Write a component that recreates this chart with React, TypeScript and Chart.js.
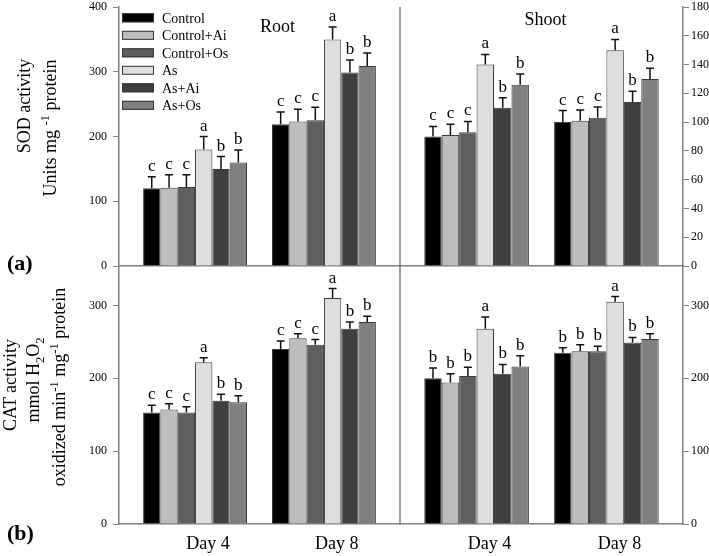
import React, { useEffect, useRef } from 'react';
import { Chart, registerables } from 'chart.js';

Chart.register(...registerables);

const FONT = '"Liberation Serif", "Times New Roman", serif';
Chart.defaults.font.family = FONT;

// ---------- data ----------
const categories = ['Day 4', 'Day 8'];
const dayPositions = [1, 2];
const treatments = ['Control', 'Control+Ai', 'Control+Os', 'As', 'As+Ai', 'As+Os'];
const treatmentColors = ['#000000', '#bdbdbd', '#5f5f5f', '#dedede', '#3f3f3f', '#808080'];

// SOD, root (left axis 0-400)
const sodRootDay4 = [120, 121, 122, 180, 150, 160];
const sodRootDay4Err = [18, 20, 19, 20, 19, 19];
const sodRootDay4Sig = ['c', 'c', 'c', 'a', 'b', 'b'];
const sodRootDay8 = [219, 223, 225, 350, 299, 309];
const sodRootDay8Err = [19, 19, 20, 19, 19, 20];
const sodRootDay8Sig = ['c', 'c', 'c', 'a', 'b', 'b'];

// SOD, shoot (right axis 0-180)
const sodShootDay4 = [90, 91, 93, 140, 110, 126];
const sodShootDay4Err = [7, 7.5, 7.5, 7, 7, 7.5];
const sodShootDay4Sig = ['c', 'c', 'c', 'a', 'b', 'b'];
const sodShootDay8 = [100, 101, 103, 150, 114, 130];
const sodShootDay8Err = [8, 7.5, 7.5, 7.5, 7.5, 7.5];
const sodShootDay8Sig = ['c', 'c', 'c', 'a', 'b', 'b'];

// CAT, root
const catRootDay4 = [153, 157, 153, 222, 169, 167];
const catRootDay4Err = [10, 8, 8, 6, 9, 9];
const catRootDay4Sig = ['c', 'c', 'c', 'a', 'b', 'b'];
const catRootDay8 = [240, 255, 246, 310, 268, 277];
const catRootDay8Err = [11, 6, 7, 13, 9, 8];
const catRootDay8Sig = ['c', 'c', 'c', 'a', 'b', 'b'];

// CAT, shoot
const catShootDay4 = [200, 194, 203, 268, 206, 216];
const catShootDay4Err = [14, 12, 12, 16, 13, 15];
const catShootDay4Sig = ['b', 'b', 'b', 'a', 'b', 'b'];
const catShootDay8 = [235, 237, 237, 305, 249, 254];
const catShootDay8Err = [7, 9, 7, 7, 7, 7];
const catShootDay8Sig = ['b', 'b', 'b', 'a', 'b', 'b'];

// tick labels
const sodRootTicks = [0, 100, 200, 300, 400];
const sodShootTicks = [0, 20, 40, 60, 80, 100, 120, 140, 160, 180];
const catTicks = [0, 100, 200, 300];

// ---------- layout ----------
const W = 709;
const H = 556;
const AXIS = '#808080';

// ---------- plugins ----------
const barAnnotations = {
  id: 'barAnnotations',
  afterDatasetsDraw(chart: any, _args: any, o: any) {
    const ctx = chart.ctx;
    const ys = chart.scales.y;
    ctx.save();
    chart.data.datasets.forEach((ds: any, i: number) => {
      const meta = chart.getDatasetMeta(i);
      meta.data.forEach((bar: any, j: number) => {
        const v = ds.data[j].y;
        const top = ys.getPixelForValue(v + ds.errors[j]);
        ctx.strokeStyle = o.color;
        ctx.lineWidth = o.lineWidth;
        ctx.beginPath();
        ctx.moveTo(bar.x, bar.y);
        ctx.lineTo(bar.x, top);
        ctx.moveTo(bar.x - o.cap / 2, top);
        ctx.lineTo(bar.x + o.cap / 2, top);
        ctx.stroke();
        ctx.fillStyle = '#000';
        ctx.font = o.font;
        ctx.textAlign = 'center';
        ctx.textBaseline = 'alphabetic';
        ctx.fillText(ds.letters[j], bar.x, top - o.gap);
      });
    });
    ctx.restore();
  },
};

const panelDecor = {
  id: 'panelDecor',
  afterDraw(chart: any, _args: any, o: any) {
    const ctx = chart.ctx;
    const ca = chart.chartArea;
    ctx.save();
    if (o.divider) {
      ctx.strokeStyle = AXIS;
      ctx.lineWidth = 1.5;
      ctx.beginPath();
      ctx.moveTo(ca.left, ca.top);
      ctx.lineTo(ca.left, ca.bottom);
      ctx.stroke();
    }
    if (o.title) {
      ctx.fillStyle = '#000';
      ctx.font = '18px ' + FONT;
      ctx.textAlign = 'center';
      ctx.textBaseline = 'alphabetic';
      ctx.fillText(o.title, o.titleX, o.titleY);
    }
    if (o.legend) {
      chart.data.datasets.forEach((ds: any, i: number) => {
        const top = o.legendY + i * o.legendRow;
        ctx.fillStyle = ds.backgroundColor;
        ctx.fillRect(o.legendX, top, 32, 9);
        ctx.strokeStyle = '#333';
        ctx.lineWidth = 1;
        ctx.strokeRect(o.legendX + 0.5, top + 0.5, 31, 8);
        ctx.fillStyle = '#000';
        ctx.font = '14px ' + FONT;
        ctx.textAlign = 'left';
        ctx.textBaseline = 'alphabetic';
        ctx.fillText(ds.label, o.legendX + 40, top + 9.4);
      });
    }
    ctx.restore();
  },
};

type PanelSpec = {
  day4: number[]; day8: number[];
  err4: number[]; err8: number[];
  sig4: string[]; sig8: string[];
  ticks: number[]; max: number;
  side: 'left' | 'right';
  area: { l: number; t: number; r: number; b: number };
  showDays: boolean;
  decor: any;
};

function makeConfig(p: PanelSpec): any {
  const vals = [p.day4, p.day8];
  const errs = [p.err4, p.err8];
  const sigs = [p.sig4, p.sig8];
  const datasets = treatments.map((name, i) => ({
    label: name,
    data: dayPositions.map((x, j) => ({ x, y: vals[j][i] })),
    errors: dayPositions.map((_, j) => errs[j][i]),
    letters: dayPositions.map((_, j) => sigs[j][i]),
    backgroundColor: treatmentColors[i],
    borderColor: '#3a3a3a',
    borderWidth: 1,
    categoryPercentage: 0.806,
    barPercentage: 1,
  }));
  const a = p.area;
  const isLeft = p.side === 'left';
  return {
    type: 'bar',
    data: { datasets },
    options: {
      responsive: false,
      animation: false,
      devicePixelRatio: 1,
      events: [],
      layout: {
        padding: {
          left: isLeft ? 0 : a.l,
          right: isLeft ? W - a.r : 0,
          top: a.t,
          bottom: p.showDays ? 0 : H - a.b,
        },
      },
      plugins: {
        legend: { display: false },
        tooltip: { enabled: false },
        barAnnotations: { color: '#111', lineWidth: 1.5, cap: 8, gap: 6, font: '17px ' + FONT },
        panelDecor: p.decor,
      },
      scales: {
        x: {
          type: 'linear',
          min: 0.41,
          max: 2.59,
          offset: false,
          afterBuildTicks: (s: any) => {
            s.ticks = dayPositions.map((v) => ({ value: v + 0.1 }));
          },
          afterFit: (s: any) => {
            s.height = p.showDays ? H - a.b : 0;
            s.paddingLeft = 0;
            s.paddingRight = 0;
          },
          ticks: {
            display: p.showDays,
            callback: (_v: any, idx: number) => categories[idx],
            font: { family: FONT, size: 18 },
            color: '#000',
            padding: 9,
            maxRotation: 0,
            autoSkip: false,
          },
          grid: { display: false, drawTicks: false },
          border: { display: true, color: AXIS, width: 1.5 },
        },
        y: {
          position: p.side,
          min: 0,
          max: p.max,
          afterBuildTicks: (s: any) => {
            s.ticks = p.ticks.map((v) => ({ value: v }));
          },
          afterFit: (s: any) => {
            s.width = isLeft ? a.l : W - a.r;
            s.paddingTop = 0;
            s.paddingBottom = 0;
          },
          ticks: { font: { family: FONT, size: 12 }, color: '#000', padding: isLeft ? 6 : 2 },
          grid: { display: true, drawOnChartArea: false, drawTicks: true, tickLength: 6, color: AXIS, lineWidth: 1 },
          border: { display: true, color: AXIS, width: 1.5 },
        },
      },
    },
    plugins: [barAnnotations, panelDecor],
  };
}

const LEFT = 119;
const MID = 400;
const RIGHT = 683;
const TOP = 7;
const MIDY = 266;
const BOTTOM = 524;

const panels: PanelSpec[] = [
  {
    day4: sodRootDay4, day8: sodRootDay8, err4: sodRootDay4Err, err8: sodRootDay8Err,
    sig4: sodRootDay4Sig, sig8: sodRootDay8Sig, ticks: sodRootTicks, max: 400,
    side: 'left', area: { l: LEFT, t: TOP, r: MID, b: MIDY }, showDays: false,
    decor: { title: 'Root', titleX: 277.5, titleY: 31.5, legend: true, legendX: 122, legendY: 13.3, legendRow: 17.5 },
  },
  {
    day4: sodShootDay4, day8: sodShootDay8, err4: sodShootDay4Err, err8: sodShootDay8Err,
    sig4: sodShootDay4Sig, sig8: sodShootDay8Sig, ticks: sodShootTicks, max: 180,
    side: 'right', area: { l: MID, t: TOP, r: RIGHT, b: MIDY }, showDays: false,
    decor: { title: 'Shoot', titleX: 545.5, titleY: 25, divider: true },
  },
  {
    day4: catRootDay4, day8: catRootDay8, err4: catRootDay4Err, err8: catRootDay8Err,
    sig4: catRootDay4Sig, sig8: catRootDay8Sig, ticks: catTicks, max: 354,
    side: 'left', area: { l: LEFT, t: MIDY, r: MID, b: BOTTOM }, showDays: true,
    decor: {},
  },
  {
    day4: catShootDay4, day8: catShootDay8, err4: catShootDay4Err, err8: catShootDay8Err,
    sig4: catShootDay4Sig, sig8: catShootDay8Sig, ticks: catTicks, max: 354,
    side: 'right', area: { l: MID, t: MIDY, r: RIGHT, b: BOTTOM }, showDays: true,
    decor: { divider: true },
  },
];

function Panel({ spec }: { spec: PanelSpec }) {
  const ref = useRef<HTMLCanvasElement | null>(null);
  useEffect(() => {
    if (!ref.current) return;
    const chart = new Chart(ref.current, makeConfig(spec));
    return () => chart.destroy();
  }, [spec]);
  return (
    <canvas
      ref={ref}
      width={W}
      height={H}
      style={{ position: 'absolute', left: 0, top: 0, width: W, height: H }}
    />
  );
}

function RotLabel({ cx, cy, children }: { cx: number; cy: number; children: React.ReactNode }) {
  return (
    <div
      style={{
        position: 'absolute',
        left: cx,
        top: cy,
        transform: 'translate(-50%, -50%) rotate(-90deg)',
        whiteSpace: 'nowrap',
        fontSize: 18,
        lineHeight: 1,
        fontFamily: FONT,
        color: '#000',
      }}
    >
      {children}
    </div>
  );
}

const supStyle: React.CSSProperties = { fontSize: '0.7em', verticalAlign: 'super', lineHeight: 0 };
const subStyle: React.CSSProperties = { fontSize: '0.7em', verticalAlign: 'sub', lineHeight: 0 };

export default function App() {
  return (
    <div
      style={{
        position: 'absolute',
        left: 0,
        top: 0,
        width: W,
        height: H,
        background: '#fff',
        overflow: 'hidden',
        fontFamily: FONT,
      }}
    >
      {panels.map((p, i) => (
        <Panel key={i} spec={p} />
      ))}
      <RotLabel cx={24} cy={106}>SOD activity</RotLabel>
      <RotLabel cx={50} cy={128}>
        Units mg <span style={supStyle}>-1</span> protein
      </RotLabel>
      <RotLabel cx={10} cy={385}>CAT activity</RotLabel>
      <RotLabel cx={33} cy={380}>
        mmol H<span style={subStyle}>2</span>O<span style={subStyle}>2</span>
      </RotLabel>
      <RotLabel cx={59} cy={387}>
        oxidized min<span style={supStyle}>-1</span> mg<span style={supStyle}>-1</span> protein
      </RotLabel>
      <div style={{ position: 'absolute', left: 7, top: 252, fontSize: 22, fontWeight: 'bold', lineHeight: 1 }}>(a)</div>
      <div style={{ position: 'absolute', left: 7, top: 522, fontSize: 22, fontWeight: 'bold', lineHeight: 1 }}>(b)</div>
    </div>
  );
}
